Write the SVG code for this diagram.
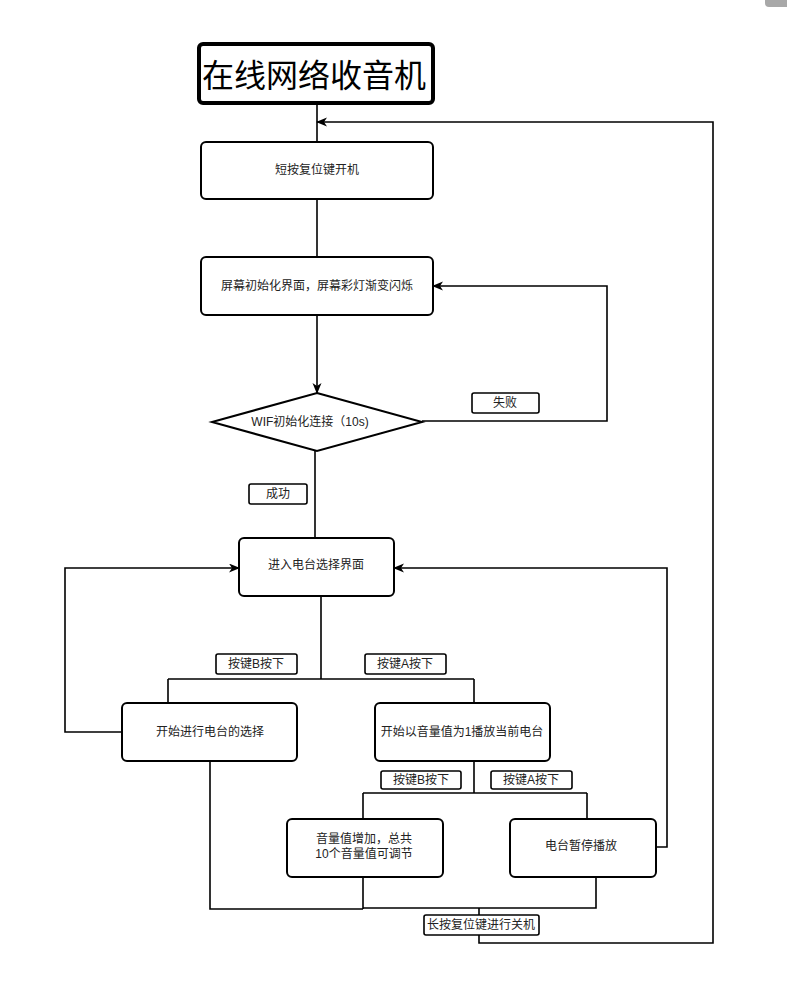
<svg xmlns="http://www.w3.org/2000/svg" width="787" height="991" viewBox="0 0 787 991">
<style>
.box{fill:#fff;stroke:#000;stroke-width:2}
.lbl{fill:#fff;stroke:#000;stroke-width:1.6}
.ln{fill:none;stroke:#000;stroke-width:1.6}
text{font-family:"Liberation Sans","Noto Sans CJK SC",sans-serif;font-size:12px;fill:#222;text-anchor:middle}
.title{font-size:32px;fill:#000}
</style>
<defs>
<marker id="arr" markerUnits="userSpaceOnUse" markerWidth="12" markerHeight="10" refX="10" refY="4.5" orient="auto">
<path d="M0,0 L11,4.5 L0,9 L3,4.5 z" fill="#000"/>
</marker>
</defs>
<rect x="765" y="-6" width="30" height="13" rx="4" fill="#a8a8a8"/>
<g id="connectors">
<path class="ln" d="M317,103 V142"/>
<path class="ln" d="M317,199 V257"/>
<path class="ln" d="M317,315 V393" marker-end="url(#arr)"/>
<path class="ln" d="M422,421 H607 V286 H433" marker-end="url(#arr)"/>
<path class="ln" d="M315,451 V538"/>
<path class="ln" d="M321,596 V679 M168,679 H474 M168,679 V703 M474,679 V703"/>
<path class="ln" d="M122,732 H65 V568 H239" marker-end="url(#arr)"/>
<path class="ln" d="M474,761 V793 M363,793 H587 M363,793 V819 M587,793 V819"/>
<path class="ln" d="M656,847 H667 V568 H394" marker-end="url(#arr)"/>
<path class="ln" d="M210,761 V909 H363 M363,877 V909 M363,908 H596 V877"/>
<path class="ln" d="M479,908 V943 H713 V122 H317" marker-end="url(#arr)"/>
</g>
<g id="title">
<rect x="199" y="44" width="234" height="59" rx="4" fill="#fff" stroke="#000" stroke-width="4"/>
<text class="title" x="314" y="87">在线网络收音机</text>
</g>
<g id="n1">
<rect class="box" x="201" y="142" width="232" height="57" rx="5"/>
<text x="317" y="174">短按复位键开机</text>
</g>
<g id="n2">
<rect class="box" x="201" y="257" width="232" height="58" rx="5"/>
<text x="317" y="290">屏幕初始化界面，屏幕彩灯渐变闪烁</text>
</g>
<g id="n3">
<polygon class="box" points="317,393 422,422 317,451 212,422"/>
<text x="310" y="426">WIF初始化连接（10s)</text>
</g>
<g id="lbl-fail">
<rect class="lbl" x="472" y="393" width="67" height="20" rx="2"/>
<text x="505" y="407">失败</text>
</g>
<g id="lbl-ok">
<rect class="lbl" x="249" y="484" width="58" height="20" rx="2"/>
<text x="278" y="498">成功</text>
</g>
<g id="n4">
<rect class="box" x="239" y="538" width="155" height="58" rx="5"/>
<text x="316" y="569">进入电台选择界面</text>
</g>
<g id="lbl-b1">
<rect class="lbl" x="216" y="654" width="81" height="20" rx="2"/>
<text x="256" y="668">按键B按下</text>
</g>
<g id="lbl-a1">
<rect class="lbl" x="365" y="654" width="81" height="20" rx="2"/>
<text x="405" y="668">按键A按下</text>
</g>
<g id="n5">
<rect class="box" x="122" y="703" width="175" height="58" rx="5"/>
<text x="210" y="736">开始进行电台的选择</text>
</g>
<g id="n6">
<rect class="box" x="375" y="703" width="175" height="58" rx="5"/>
<text x="462" y="736">开始以音量值为1播放当前电台</text>
</g>
<g id="lbl-b2">
<rect class="lbl" x="381" y="771" width="80" height="18" rx="2"/>
<text x="421" y="784">按键B按下</text>
</g>
<g id="lbl-a2">
<rect class="lbl" x="491" y="771" width="81" height="18" rx="2"/>
<text x="531" y="784">按键A按下</text>
</g>
<g id="n7">
<rect class="box" x="287" y="819" width="156" height="58" rx="5"/>
<text x="364" y="843">音量值增加，总共</text>
<text x="364" y="858">10个音量值可调节</text>
</g>
<g id="n8">
<rect class="box" x="510" y="819" width="146" height="58" rx="5"/>
<text x="581" y="850">电台暂停播放</text>
</g>
<g id="lbl-off">
<rect class="lbl" x="424" y="915" width="115" height="20" rx="2"/>
<text x="481" y="929">长按复位键进行关机</text>
</g>
</svg>
